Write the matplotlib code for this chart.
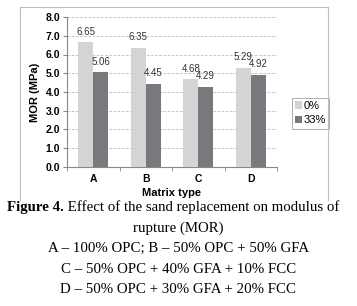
import matplotlib.pyplot as plt
import numpy as np
from matplotlib.lines import Line2D

# data
categories = ["A", "B", "C", "D"]
mor_0 = [6.65, 6.35, 4.68, 5.29]
mor_33 = [5.06, 4.45, 4.29, 4.92]
series_labels = ["0%", "33%"]
colors = ["#d4d4d4", "#7a777d"]

caption_lines = [
    "rupture (MOR)",
    "A \u2013 100% OPC; B \u2013 50% OPC + 50% GFA",
    "C \u2013 50% OPC + 40% GFA + 10% FCC",
    "D \u2013 50% OPC + 30% GFA + 20% FCC",
]

W, H = 357, 306
fig = plt.figure(figsize=(W / 100, H / 100), dpi=100)
fig.patch.set_facecolor("white")

def fx(px):
    return px / W

def fy(py):
    return 1 - py / H

# chart border (Excel chart area)
for (x0, y0, x1, y1) in [(20, 7, 328, 7), (20, 7, 20, 200), (328, 7, 328, 200)]:
    fig.add_artist(Line2D([fx(x0), fx(x1)], [fy(y0), fy(y1)], color="#bfbfbf", lw=0.8))

ax = fig.add_axes([fx(67), fy(167), fx(277) - fx(67), fy(17) - fy(167)])
x = np.arange(len(categories))
bw = 0.285
b1 = ax.bar(x - bw / 2, mor_0, bw, color=colors[0], label=series_labels[0], zorder=3)
b2 = ax.bar(x + bw / 2, mor_33, bw, color=colors[1], label=series_labels[1], zorder=3)

for bars in (b1, b2):
    for r in bars:
        ax.annotate(f"{r.get_height():.2f}", (r.get_x() + r.get_width() / 2, r.get_height()),
                    xytext=(0, 4), textcoords="offset points", ha="center", va="bottom",
                    fontsize=7, color="#333333", family="Liberation Sans")

ax.set_xlim(-0.5, len(categories) - 0.5)
ax.set_ylim(0, 8)
ax.set_yticks(np.arange(0, 9, 1))
ax.set_yticklabels([f"{v:.1f}" for v in np.arange(0, 9, 1)])
ax.set_xticks(x)
ax.set_xticklabels(categories)
ax.set_xticks(np.arange(-0.5, len(categories), 1), minor=True)
ax.tick_params(axis="x", which="major", length=0, pad=5)
ax.tick_params(axis="x", which="minor", length=3, color="#888888")
ax.tick_params(axis="y", length=3, color="#888888", pad=2)
for lab in ax.get_xticklabels() + ax.get_yticklabels():
    lab.set_fontsize(7.5)
    lab.set_fontweight("bold")
    lab.set_family("Liberation Sans")

ax.yaxis.grid(True, linestyle=(0, (4, 2)), color="#b0b0b0", lw=0.5, zorder=0)
for s in ["top", "right"]:
    ax.spines[s].set_visible(False)
ax.spines["left"].set_color("#888888")
ax.spines["bottom"].set_color("#888888")
ax.spines["left"].set_linewidth(0.8)
ax.spines["bottom"].set_linewidth(0.8)

ax.set_ylabel("MOR (MPa)", fontsize=8, fontweight="bold", family="Liberation Sans", labelpad=4)
ax.set_xlabel("Matrix type", fontsize=8, fontweight="bold", family="Liberation Sans", labelpad=3)

leg = ax.legend(loc="upper left", bbox_to_anchor=(fx(286 - 67) / (fx(277) - fx(67)), 1 - (92 - 17) / 150),
                frameon=True, fancybox=False, handlelength=0.6, handleheight=0.6,
                handletextpad=0.2, borderpad=0.3, labelspacing=0.4,
                prop={"family": "Liberation Sans", "size": 8})
leg.get_frame().set_edgecolor("#888888")
leg.get_frame().set_linewidth(0.6)

# caption below the chart
cap_size = 10.7
t = fig.text(fx(7), fy(207), "Figure 4.", fontsize=cap_size, fontweight="bold",
             family="Liberation Serif", va="center", ha="left")
fig.canvas.draw()
bb = t.get_window_extent()
fig.text(bb.x1 / W, fy(207), " Effect of the sand replacement on modulus of", fontsize=cap_size,
         family="Liberation Serif", va="center", ha="left")
for i, line in enumerate(caption_lines):
    fig.text(0.5, fy(228 + 20.6 * i), line, fontsize=cap_size, family="Liberation Serif",
             va="center", ha="center")

fig.savefig("out.png", dpi=100, facecolor="white")
